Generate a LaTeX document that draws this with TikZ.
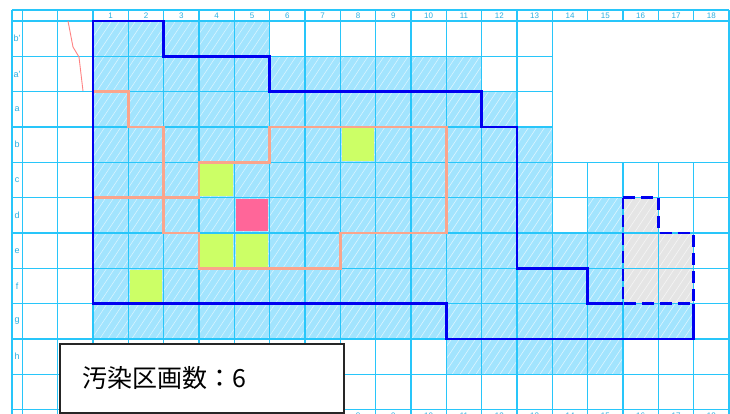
\documentclass[tikz,border=0pt]{standalone}
\usepackage{fontspec}
\setmainfont{Liberation Sans}
\newfontfamily\cjk{Noto Sans CJK JP}
\definecolor{gridc}{RGB}{40,198,250}
\definecolor{gridtext}{RGB}{40,175,225}
\definecolor{hatchblue}{RGB}{162,228,254}
\definecolor{grayfill}{RGB}{229,229,229}
\definecolor{greenc}{RGB}{204,255,102}
\definecolor{pinkc}{RGB}{255,102,153}
\definecolor{outlineblue}{RGB}{0,0,240}
\definecolor{orangec}{RGB}{250,165,140}
\definecolor{redline}{RGB}{255,130,130}
\begin{document}
\begin{tikzpicture}[x=1pt,y=-1pt,
  gridline/.style={draw=gridc, line width=1.2pt},
  hatchline/.style={draw=white, line width=0.6pt, opacity=0.6},
  hdr/.style={text=gridtext, font=\fontsize{8}{9}\selectfont, inner sep=0pt},
  rowlab/.style={text=gridtext, font=\fontsize{9}{10}\selectfont, inner sep=0pt},
  blueline/.style={draw=outlineblue, line width=2.8pt},
  bluedash/.style={draw=outlineblue, line width=2.6pt, dash pattern=on 12pt off 6pt},
  orangeline/.style={draw=orangec, line width=2.5pt},
  countbox/.style={draw=black!85, line width=1.6pt, fill=white, minimum width=284pt, minimum height=69pt, inner sep=0pt, anchor=north west}]
\useasboundingbox (0,0) rectangle (730,414);
\fill[white] (0,0) rectangle (730,414);
\begin{scope}[shift={(93,21)}, x=35.333pt, y=-35.333pt]
  % fills
  \fill[hatchblue] (0,0)--(5,0)--(5,1)--(11,1)--(11,2)--(12,2)--(12,3)--(13,3)--(13,6)--(14,6)--(14,5)--(15,5)--(15,8)--(17,8)--(17,9)--(15,9)--(15,10)--(10,10)--(10,9)--(0,9)--cycle;
  \fill[grayfill] (15,5)--(16,5)--(16,6)--(17,6)--(17,8)--(15,8)--cycle;
  % hatching
  \begin{scope}
    \clip (0,0)--(5,0)--(5,1)--(11,1)--(11,2)--(12,2)--(12,3)--(13,3)--(13,6)--(14,6)--(14,5)--(15,5)--(15,8)--(17,8)--(17,9)--(15,9)--(15,10)--(10,10)--(10,9)--(0,9)--cycle
          (15,5)--(16,5)--(16,6)--(17,6)--(17,8)--(15,8)--cycle;
    \foreach \k in {-34,...,78}
      \draw[hatchline] ({\k*0.2264},10.3) -- ++(7.2,-10.8);
  \end{scope}
  % grid
  \foreach \ry in {0,4,5,...,11}
    \draw[gridline] (-2.293,\ry) -- (18,\ry);
  \foreach \ry in {1,2,3}
    \draw[gridline] (-2.293,\ry) -- (13,\ry);
  \draw[gridline] (-2.293,-0.311) -- (18,-0.311);
  \foreach \cx in {-2.293,-2,-1,0,1,...,13,18}
    \draw[gridline] (\cx,-0.311) -- (\cx,11.5);
  \foreach \cx in {14,...,17} {
    \draw[gridline] (\cx,-0.311) -- (\cx,0);
    \draw[gridline] (\cx,4) -- (\cx,11.5);
  }
  % green and pink cells
  \foreach \cx/\ry in {7/3,3/4,3/6,4/6,1/7}
    \fill[greenc] (\cx+0.04,\ry+0.04) rectangle (\cx+0.96,\ry+0.96);
  \fill[pinkc] (4.05,5.05) rectangle (4.95,5.95);
  % header labels
  \foreach \i in {1,...,18} {
    \node[hdr] (top\i) at (\i-0.5,-0.156) {\i};
    \node[hdr] (bot\i) at (\i-0.5,11.16) {\i};
  }
  \foreach \lab [count=\n from 0] in {b',a',a,b,c,d,e,f,g,h}
    \node[rowlab] (row\n) at (-2.15,\n+0.5) {\lab};
  % outlines
  \draw[orangeline] (0,2)--(1,2)--(1,3)--(2,3)--(2,6)--(3,6)--(3,7)--(7,7)--(7,6)--(10,6)--(10,3)--(5,3)--(5,4)--(3,4)--(3,5)--(0,5)--cycle;
  \draw[blueline] (15,8)--(14,8)--(14,7)--(12,7)--(12,3)--(11,3)--(11,2)--(5,2)--(5,1)--(2,1)--(2,0)--(0,0)--(0,8)--(10,8)--(10,9)--(17,9)--(17,8);
  \draw[bluedash] (15,5)--(16,5)--(16,6)--(17,6)--(17,8)--(15,8)--cycle;
\end{scope}
\draw[redline, line width=0.9pt] (68,21)--(73,47)--(79,57)--(83,91);
\node[countbox] (box) at (59,343) {};
\node[anchor=west, inner sep=0pt] (count) at (82,378) {\cjk\fontsize{25}{30}\selectfont 汚染区画数：6};
\end{tikzpicture}
\end{document}
